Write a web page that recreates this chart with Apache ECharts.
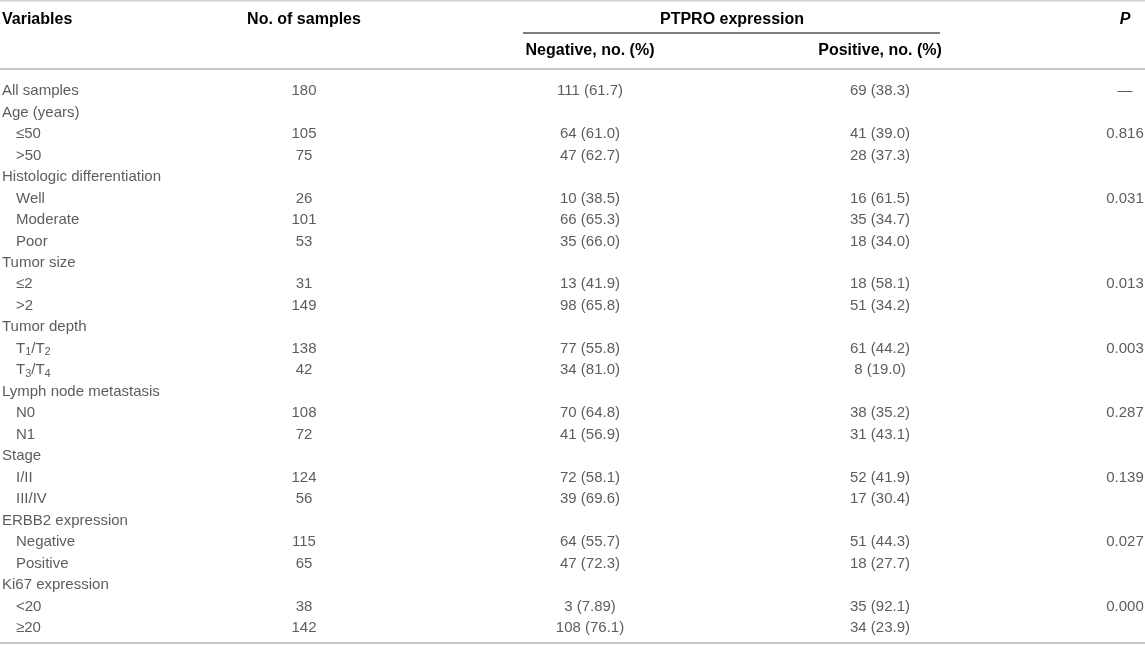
<!DOCTYPE html>
<html>
<head>
<meta charset="utf-8">
<script src="https://cdn.jsdelivr.net/npm/echarts@6/dist/echarts.min.js"></script>
<style>
html,body{margin:0;padding:0;background:#fff;}
#chart{width:1145px;height:645px;}
</style>
</head>
<body>
<div id="chart"></div>
<script>
// ---- Data ----
const variables = ['All samples','Age (years)','≤50','>50','Histologic differentiation','Well','Moderate','Poor',
  'Tumor size','≤2','>2','Tumor depth','T{s|1}/T{s|2}','T{s|3}/T{s|4}','Lymph node metastasis','N0','N1',
  'Stage','I/II','III/IV','ERBB2 expression','Negative','Positive','Ki67 expression','<20','≥20'];
const levels = [0,0,1,1,0,1,1,1,0,1,1,0,1,1,0,1,1,0,1,1,0,1,1,0,1,1];
const samples = [180,null,105,75,null,26,101,53,null,31,149,null,138,42,null,108,72,null,124,56,null,115,65,null,38,142];
const negN = [111,null,64,47,null,10,66,35,null,13,98,null,77,34,null,70,41,null,72,39,null,64,47,null,3,108];
const negPct = ['61.7',null,'61.0','62.7',null,'38.5','65.3','66.0',null,'41.9','65.8',null,'55.8','81.0',null,'64.8','56.9',null,'58.1','69.6',null,'55.7','72.3',null,'7.89','76.1'];
const posN = [69,null,41,28,null,16,35,18,null,18,51,null,61,8,null,38,31,null,52,17,null,51,18,null,35,34];
const posPct = ['38.3',null,'39.0','37.3',null,'61.5','34.7','34.0',null,'58.1','34.2',null,'44.2','19.0',null,'35.2','43.1',null,'41.9','30.4',null,'44.3','27.7',null,'92.1','23.9'];
const pValues = ['—',null,'0.816',null,null,'0.031',null,null,null,'0.013',null,null,'0.003',null,null,'0.287',null,null,'0.139',null,null,'0.027',null,null,'0.000',null];
const headers = {variables:'Variables', samples:'No. of samples', group:'PTPRO expression', neg:'Negative, no. (%)', pos:'Positive, no. (%)', p:'P'};

// ---- Layout ----
const W = 1145, H = 645;
const colX = {var0: 2, var1: 16, samples: 304, neg: 590, pos: 880, p: 1125};
const rowTop = 80.26, rowBottom = 6.26;
const bodyFont = {fontFamily: 'Liberation Sans, Arial, sans-serif', fontSize: 15, color: '#333'};
const headFont = {fontFamily: 'Liberation Sans, Arial, sans-serif', fontSize: 16, color: '#1e1e1e', fontWeight: 'bold'};

const rowIdx = variables.map((_, i) => String(i));

function textSeries(name, x, texts, align, rich) {
  const data = [];
  texts.forEach((t, i) => {
    if (t === null || t === undefined) return;
    const xx = typeof x === 'function' ? x(i) : x;
    data.push({value: [xx, String(i)], label: {formatter: String(t)}});
  });
  return {
    type: 'scatter', name, symbolSize: 0, silent: true, data,
    label: Object.assign({show: true, position: 'inside', align: align, verticalAlign: 'middle', rich: rich || {}}, bodyFont)
  };
}

const subRich = {s: {fontSize: 11, fontFamily: 'Liberation Sans, Arial, sans-serif', color: '#333', verticalAlign: 'bottom', padding: [7, 0, 0, 0]}};

const option = {
  animation: false,
  backgroundColor: '#fff',
  grid: {left: 0, right: 0, top: rowTop, bottom: rowBottom},
  xAxis: {type: 'value', min: 0, max: W, show: false},
  yAxis: {type: 'category', data: rowIdx, inverse: true, show: false},
  series: [
    textSeries('Variables', i => levels[i] ? colX.var1 : colX.var0, variables, 'left', subRich),
    textSeries('Samples', colX.samples, samples, 'center'),
    textSeries('Negative', colX.neg, negN.map((n, i) => n === null ? null : n + ' (' + negPct[i] + ')'), 'center'),
    textSeries('Positive', colX.pos, posN.map((n, i) => n === null ? null : n + ' (' + posPct[i] + ')'), 'center'),
    textSeries('P', colX.p, pValues, 'center')
  ],
  graphic: [
    {type: 'line', shape: {x1: 0, y1: 0.5, x2: W, y2: 0.5}, style: {stroke: '#d0d0d0', lineWidth: 2}},
    {type: 'line', shape: {x1: 0, y1: 69, x2: W, y2: 69}, style: {stroke: '#c8c8c8', lineWidth: 2}},
    {type: 'line', shape: {x1: 523, y1: 33, x2: 940, y2: 33}, style: {stroke: '#555', lineWidth: 1.5}},
    {type: 'line', shape: {x1: 0, y1: 643, x2: W, y2: 643}, style: {stroke: '#c8c8c8', lineWidth: 2}},
    {type: 'text', x: colX.var0, y: 20, style: Object.assign({text: headers.variables, align: 'left', verticalAlign: 'middle'}, headFont)},
    {type: 'text', x: colX.samples, y: 20, style: Object.assign({text: headers.samples, align: 'center', verticalAlign: 'middle'}, headFont)},
    {type: 'text', x: 732, y: 20, style: Object.assign({text: headers.group, align: 'center', verticalAlign: 'middle'}, headFont)},
    {type: 'text', x: colX.neg, y: 51, style: Object.assign({text: headers.neg, align: 'center', verticalAlign: 'middle'}, headFont)},
    {type: 'text', x: colX.pos, y: 51, style: Object.assign({text: headers.pos, align: 'center', verticalAlign: 'middle'}, headFont)},
    {type: 'text', x: colX.p, y: 20, style: Object.assign({text: headers.p, align: 'center', verticalAlign: 'middle', fontStyle: 'italic'}, headFont)}
  ]
};

const chart = echarts.init(document.getElementById('chart'), null, {renderer: 'canvas'});
chart.setOption(option);
</script>
</body>
</html>
